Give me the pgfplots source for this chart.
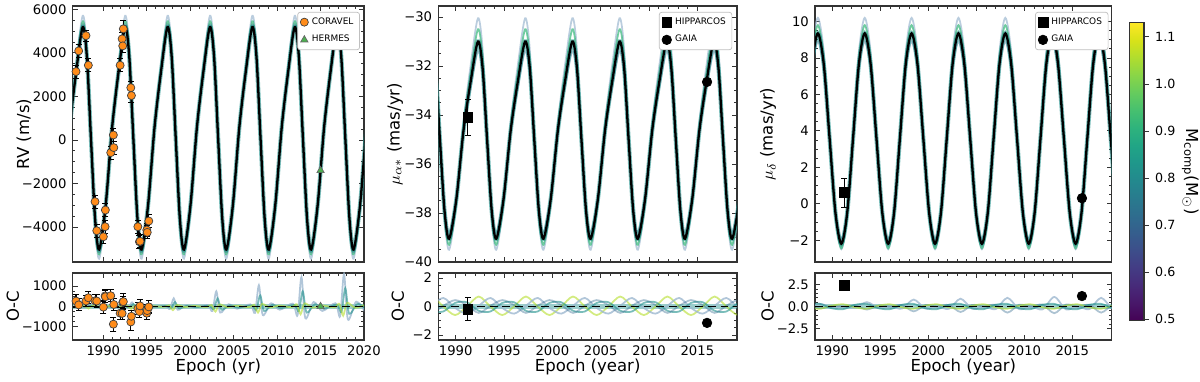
\documentclass[border=0pt]{standalone}
\usepackage{pgfplots}
\pgfplotsset{compat=1.18}
\usepackage{pgfplotstable}
\usepgfplotslibrary{colormaps}
\usepackage{fontspec}
\setmainfont{DejaVu Sans}

\definecolor{vyel}{HTML}{B5DE2B}
\definecolor{vgrn}{HTML}{35B779}
\definecolor{vteal}{HTML}{21918C}
\definecolor{vblue}{HTML}{31688E}
\definecolor{lblue}{HTML}{9DB8D0}
\definecolor{corav}{HTML}{FF8C1A}
\definecolor{herm}{HTML}{4CAF50}

\pgfplotsset{
  base/.style={scale only axis, anchor=south west,
    axis line style={black!80, line width=0.6pt},
    tick style={black!80, line width=0.45pt},
    major tick length=0.1cm, minor tick length=0.055cm,
    tick align=inside, scaled ticks=false,
    tick label style={font=\fontsize{7.5}{8.2}\selectfont},
    label style={font=\fontsize{9.4}{10.5}\selectfont},
    legend cell align=left},
  leg/.style={legend style={at={(axis description cs:#1)}, anchor=north east,
    font=\fontsize{5.1}{6}\selectfont, draw=black!25, rounded corners=1.5pt,
    inner xsep=1.5pt, inner ysep=1pt, row sep=0.8pt}},
  crv/.style={smooth, forget plot, line width=1pt},
  fitline/.style={smooth, forget plot, black, line width=1.3pt},
  halo/.style={smooth, forget plot, vteal, line width=2.4pt, opacity=0.6},
  ebar/.style={error bars/.cd, y dir=both, y explicit,
    error bar style={black, line width=0.6pt},
    error mark options={rotate=90, black, mark size=1.7pt, line width=0.6pt}},
}

% RV model draws: fit and three draws (light blue, green, blue)
\pgfplotstableread{
t fit a b c
1985.385 -2988 -3220 -3110 -3060
1986.130 586 682 635 598
1986.875 3138 3470 3310 3210
1987.620 5180 5700 5450 5300
1988.095 3853 4251 4059 3942
1988.570 75 125 100 75
1989.045 -3601 -3889 -3752 -3687
1989.520 -5030 -5450 -5250 -5150
1990.265 -2988 -3220 -3110 -3060
1991.010 586 682 635 598
1991.755 3138 3470 3310 3210
1992.500 5180 5700 5450 5300
1992.975 3853 4251 4059 3942
1993.450 75 125 100 75
1993.925 -3601 -3889 -3752 -3687
1994.400 -5030 -5450 -5250 -5150
1995.145 -2988 -3220 -3110 -3060
1995.890 586 682 635 598
1996.635 3138 3470 3310 3210
1997.380 5180 5700 5450 5300
1997.855 3853 4251 4059 3942
1998.330 75 125 100 75
1998.805 -3601 -3889 -3752 -3687
1999.280 -5030 -5450 -5250 -5150
2000.025 -2988 -3220 -3110 -3060
2000.770 586 682 635 598
2001.515 3138 3470 3310 3210
2002.260 5180 5700 5450 5300
2002.735 3853 4251 4059 3942
2003.210 75 125 100 75
2003.685 -3601 -3889 -3752 -3687
2004.160 -5030 -5450 -5250 -5150
2004.905 -2988 -3220 -3110 -3060
2005.650 586 682 635 598
2006.395 3138 3470 3310 3210
2007.140 5180 5700 5450 5300
2007.615 3853 4251 4059 3942
2008.090 75 125 100 75
2008.565 -3601 -3889 -3752 -3687
2009.040 -5030 -5450 -5250 -5150
2009.785 -2988 -3220 -3110 -3060
2010.530 586 682 635 598
2011.275 3138 3470 3310 3210
2012.020 5180 5700 5450 5300
2012.495 3853 4251 4059 3942
2012.970 75 125 100 75
2013.445 -3601 -3889 -3752 -3687
2013.920 -5030 -5450 -5250 -5150
2014.665 -2988 -3220 -3110 -3060
2015.410 586 682 635 598
2016.155 3138 3470 3310 3210
2016.900 5180 5700 5450 5300
2017.375 3853 4251 4059 3942
2017.850 75 125 100 75
2018.325 -3601 -3889 -3752 -3687
2018.800 -5030 -5450 -5250 -5150
2019.545 -2988 -3220 -3110 -3060
2020.290 586 682 635 598
2021.035 3138 3470 3310 3210
}\rvtab

\pgfplotstableread{
t fit a b c
1985.185 -37.44 -37.61 -37.54 -37.32
1985.930 -34.62 -34.30 -34.46 -34.73
1986.675 -32.61 -31.94 -32.26 -32.88
1987.420 -31.00 -30.05 -30.50 -31.40
1987.895 -32.05 -31.28 -31.64 -32.36
1988.370 -35.03 -34.78 -34.90 -35.10
1988.845 -37.92 -38.18 -38.07 -37.76
1989.320 -39.05 -39.50 -39.30 -38.80
1990.065 -37.44 -37.61 -37.54 -37.32
1990.810 -34.62 -34.30 -34.46 -34.73
1991.555 -32.61 -31.94 -32.26 -32.88
1992.300 -31.00 -30.05 -30.50 -31.40
1992.775 -32.05 -31.28 -31.64 -32.36
1993.250 -35.03 -34.78 -34.90 -35.10
1993.725 -37.92 -38.18 -38.07 -37.76
1994.200 -39.05 -39.50 -39.30 -38.80
1994.945 -37.44 -37.61 -37.54 -37.32
1995.690 -34.62 -34.30 -34.46 -34.73
1996.435 -32.61 -31.94 -32.26 -32.88
1997.180 -31.00 -30.05 -30.50 -31.40
1997.655 -32.05 -31.28 -31.64 -32.36
1998.130 -35.03 -34.78 -34.90 -35.10
1998.605 -37.92 -38.18 -38.07 -37.76
1999.080 -39.05 -39.50 -39.30 -38.80
1999.825 -37.44 -37.61 -37.54 -37.32
2000.570 -34.62 -34.30 -34.46 -34.73
2001.315 -32.61 -31.94 -32.26 -32.88
2002.060 -31.00 -30.05 -30.50 -31.40
2002.535 -32.05 -31.28 -31.64 -32.36
2003.010 -35.03 -34.78 -34.90 -35.10
2003.485 -37.92 -38.18 -38.07 -37.76
2003.960 -39.05 -39.50 -39.30 -38.80
2004.705 -37.44 -37.61 -37.54 -37.32
2005.450 -34.62 -34.30 -34.46 -34.73
2006.195 -32.61 -31.94 -32.26 -32.88
2006.940 -31.00 -30.05 -30.50 -31.40
2007.415 -32.05 -31.28 -31.64 -32.36
2007.890 -35.03 -34.78 -34.90 -35.10
2008.365 -37.92 -38.18 -38.07 -37.76
2008.840 -39.05 -39.50 -39.30 -38.80
2009.585 -37.44 -37.61 -37.54 -37.32
2010.330 -34.62 -34.30 -34.46 -34.73
2011.075 -32.61 -31.94 -32.26 -32.88
2011.820 -31.00 -30.05 -30.50 -31.40
2012.295 -32.05 -31.28 -31.64 -32.36
2012.770 -35.03 -34.78 -34.90 -35.10
2013.245 -37.92 -38.18 -38.07 -37.76
2013.720 -39.05 -39.50 -39.30 -38.80
2014.465 -37.44 -37.61 -37.54 -37.32
2015.210 -34.62 -34.30 -34.46 -34.73
2015.955 -32.61 -31.94 -32.26 -32.88
2016.700 -31.00 -30.05 -30.50 -31.40
2017.175 -32.05 -31.28 -31.64 -32.36
2017.650 -35.03 -34.78 -34.90 -35.10
2018.125 -37.92 -38.18 -38.07 -37.76
2018.600 -39.05 -39.50 -39.30 -38.80
2019.345 -37.44 -37.61 -37.54 -37.32
2020.090 -34.62 -34.30 -34.46 -34.73
}\patab

\pgfplotstableread{
t fit a b c
1987.28 3.575 3.85 3.675 3.475
1987.89 7.66 8.35 8.01 7.32
1988.50 9.35 10.2 9.8 8.9
1989.11 7.66 8.35 8.01 7.32
1989.72 3.575 3.85 3.675 3.475
1990.33 -0.51 -0.65 -0.66 -0.37
1990.94 -2.2 -2.5 -2.45 -1.95
1991.55 -0.51 -0.65 -0.66 -0.37
1992.16 3.575 3.85 3.675 3.475
1992.77 7.66 8.35 8.01 7.32
1993.38 9.35 10.2 9.8 8.9
1993.99 7.66 8.35 8.01 7.32
1994.60 3.575 3.85 3.675 3.475
1995.21 -0.51 -0.65 -0.66 -0.37
1995.82 -2.2 -2.5 -2.45 -1.95
1996.43 -0.51 -0.65 -0.66 -0.37
1997.04 3.575 3.85 3.675 3.475
1997.65 7.66 8.35 8.01 7.32
1998.26 9.35 10.2 9.8 8.9
1998.87 7.66 8.35 8.01 7.32
1999.48 3.575 3.85 3.675 3.475
2000.09 -0.51 -0.65 -0.66 -0.37
2000.70 -2.2 -2.5 -2.45 -1.95
2001.31 -0.51 -0.65 -0.66 -0.37
2001.92 3.575 3.85 3.675 3.475
2002.53 7.66 8.35 8.01 7.32
2003.14 9.35 10.2 9.8 8.9
2003.75 7.66 8.35 8.01 7.32
2004.36 3.575 3.85 3.675 3.475
2004.97 -0.51 -0.65 -0.66 -0.37
2005.58 -2.2 -2.5 -2.45 -1.95
2006.19 -0.51 -0.65 -0.66 -0.37
2006.80 3.575 3.85 3.675 3.475
2007.41 7.66 8.35 8.01 7.32
2008.02 9.35 10.2 9.8 8.9
2008.63 7.66 8.35 8.01 7.32
2009.24 3.575 3.85 3.675 3.475
2009.85 -0.51 -0.65 -0.66 -0.37
2010.46 -2.2 -2.5 -2.45 -1.95
2011.07 -0.51 -0.65 -0.66 -0.37
2011.68 3.575 3.85 3.675 3.475
2012.29 7.66 8.35 8.01 7.32
2012.90 9.35 10.2 9.8 8.9
2013.51 7.66 8.35 8.01 7.32
2014.12 3.575 3.85 3.675 3.475
2014.73 -0.51 -0.65 -0.66 -0.37
2015.34 -2.2 -2.5 -2.45 -1.95
2015.95 -0.51 -0.65 -0.66 -0.37
2016.56 3.575 3.85 3.675 3.475
2017.17 7.66 8.35 8.01 7.32
2017.78 9.35 10.2 9.8 8.9
2018.39 7.66 8.35 8.01 7.32
2019.00 3.575 3.85 3.675 3.475
2019.61 -0.51 -0.65 -0.66 -0.37
2020.22 -2.2 -2.5 -2.45 -1.95
}\pdtab

% O-C of the draws, proper motions
\pgfplotstableread{
t m1 m2 m3 m4 d1 d2 d3 d4
1986.28 0.0 -0.5 0.3 0.1 0 0 0.25 -0.3
1987.50 0.7 0.05 -0.3 -0.45 -0.09 0.06 -0.1 0.2
1988.72 0.0 0.6 -0.35 0.05 0.3 -0.21 -0.25 0.3
1989.94 -0.6 -0.1 0.25 0.45 -0.09 0.06 0.1 -0.2
1991.16 0.0 -0.5 0.3 0.1 0 0 0.25 -0.3
1992.38 0.7 0.05 -0.3 -0.45 -0.15 0.1 -0.1 0.2
1993.60 0.0 0.6 -0.35 0.05 0.5 -0.35 -0.25 0.3
1994.82 -0.6 -0.1 0.25 0.45 -0.15 0.1 0.1 -0.2
1996.04 0.0 -0.5 0.3 0.1 0 0 0.25 -0.3
1997.26 0.7 0.05 -0.3 -0.45 -0.24 0.16 -0.1 0.2
1998.48 0.0 0.6 -0.35 0.05 0.8 -0.56 -0.25 0.3
1999.70 -0.6 -0.1 0.25 0.45 -0.24 0.16 0.1 -0.2
2000.92 0.0 -0.5 0.3 0.1 0 0 0.25 -0.3
2002.14 0.7 0.05 -0.3 -0.45 -0.27 0.18 -0.1 0.2
2003.36 0.0 0.6 -0.35 0.05 0.9 -0.63 -0.25 0.3
2004.58 -0.6 -0.1 0.25 0.45 -0.27 0.18 0.1 -0.2
2005.80 0.0 -0.5 0.3 0.1 0 0 0.25 -0.3
2007.02 0.7 0.05 -0.3 -0.45 -0.3 0.2 -0.1 0.2
2008.24 0.0 0.6 -0.35 0.05 1.0 -0.7 -0.25 0.3
2009.46 -0.6 -0.1 0.25 0.45 -0.3 0.2 0.1 -0.2
2010.68 0.0 -0.5 0.3 0.1 0 0 0.25 -0.3
2011.90 0.7 0.05 -0.3 -0.45 -0.33 0.22 -0.1 0.2
2013.12 0.0 0.6 -0.35 0.05 1.1 -0.77 -0.25 0.3
2014.34 -0.6 -0.1 0.25 0.45 -0.33 0.22 0.1 -0.2
2015.56 0.0 -0.5 0.3 0.1 0 0 0.25 -0.3
2016.78 0.7 0.05 -0.3 -0.45 -0.3 0.2 -0.1 0.2
2018.00 0.0 0.6 -0.35 0.05 1.0 -0.7 -0.25 0.3
2019.22 -0.6 -0.1 0.25 0.45 -0.3 0.2 0.1 -0.2
2020.44 0.0 -0.5 0.3 0.1 0 0 0.25 -0.3
}\pmres

\begin{document}
\begin{tikzpicture}
\useasboundingbox (0,0) rectangle (24cm,7.62cm);

% ---------------- RV ----------------
\begin{axis}[base, at={(1.454cm,2.38cm)}, width=5.826cm, height=5.12cm,
  xmin=1986.47, xmax=2020, ymin=-5600, ymax=6150,
  xtick={1990,1995,...,2020}, xticklabels={}, minor x tick num=4,
  ytick={-4000,-2000,0,2000,4000,6000},
  yticklabels={−4000,−2000,0,2000,4000,6000}, minor y tick num=3,
  ylabel={RV (m/s)},
  ylabel style={at={(axis description cs:-0.167,0.5)}, anchor=center},
  leg={0.986,0.977}]
\addplot[crv, lblue, opacity=0.7] table[x=t,y=a]{\rvtab};
\addplot[crv, vgrn, opacity=0.7] table[x=t,y=b]{\rvtab};
\addplot[crv, vblue, opacity=0.4] table[x=t,y=c]{\rvtab};
\addplot[halo] table[x=t,y=fit]{\rvtab};
\addplot[fitline] table[x=t,y=fit]{\rvtab};
\addplot[only marks, mark=*, mark size=2.3pt,
  mark options={fill=corav, draw=black!75, line width=0.4pt}, ebar]
coordinates {
(1986.85,3140) +- (0,300) (1987.16,4090) +- (0,300)
(1988.00,4790) +- (0,250) (1988.27,3430) +- (0,300)
(1989.04,-2830) +- (0,300) (1989.24,-4165) +- (0,300)
(1990.00,-4440) +- (0,300) (1990.20,-3980) +- (0,300)
(1990.23,-3215) +- (0,300) (1990.85,-580) +- (0,300)
(1991.15,230) +- (0,300) (1991.20,-350) +- (0,300)
(1991.93,3430) +- (0,300) (1992.16,4640) +- (0,300)
(1992.23,4320) +- (0,300) (1992.30,5100) +- (0,400)
(1993.16,2400) +- (0,300) (1993.23,2040) +- (0,300)
(1993.97,-3980) +- (0,300) (1994.15,-4670) +- (0,300)
(1994.22,-4650) +- (0,300) (1995.00,-4130) +- (0,300)
(1995.05,-4240) +- (0,300) (1995.23,-3720) +- (0,300)
};
\addlegendentry{CORAVEL}
\addplot[only marks, mark=triangle*, mark size=2.4pt,
  mark options={fill=herm, draw=black!60, line width=0.4pt}]
coordinates {(2015.0,-1400)};
\addlegendentry{HERMES}
\end{axis}

\begin{axis}[base, at={(1.454cm,0.82cm)}, width=5.826cm, height=1.34cm,
  xmin=1986.47, xmax=2020, ymin=-1650, ymax=1650,
  xtick={1990,1995,...,2020},
  xticklabels={1990,1995,2000,2005,2010,2015,2020}, minor x tick num=4,
  ytick={-1000,0,1000}, yticklabels={−1000,0,1000}, minor y tick num=3,
  xlabel={Epoch (yr)}, ylabel={O-C},
  xlabel style={at={(axis description cs:0.5,-0.4)}, anchor=center},
  ylabel style={at={(axis description cs:-0.205,0.5)}, anchor=center}]
\addplot[forget plot, vteal, line width=3pt, opacity=0.45]
  coordinates {(1985,0) (2021,0)};
\addplot[crv, lblue, opacity=0.8] coordinates {
(1987.4,8) (1987.95,-24) (1988.4,80) (1988.85,-32) (1989.8,12) (1990.8,-12)
(1992.3,20) (1992.85,-60) (1993.3,200) (1993.75,-80) (1994.7,30) (1995.7,-30)
(1997.1,40) (1997.65,-120) (1998.1,400) (1998.55,-160) (1999.5,60) (2000.5,-60)
(2002.0,75) (2002.55,-225) (2003.0,750) (2003.45,-300) (2004.4,110) (2005.4,-110)
(2006.9,105) (2007.45,-315) (2007.9,1050) (2008.35,-420) (2009.3,160) (2010.3,-160)
(2011.8,145) (2012.35,-435) (2012.8,1450) (2013.25,-580) (2014.2,220) (2015.2,-220)
(2016.7,160) (2017.25,-480) (2017.7,1600) (2018.15,-640) (2019.1,240) (2020.1,-240)};
\addplot[crv, vteal, opacity=0.6] coordinates {
(1987.55,5) (1988.1,-15) (1988.55,50) (1989.0,-20) (1989.95,8) (1990.95,-8)
(1992.45,12) (1993.0,-36) (1993.45,120) (1993.9,-48) (1994.85,18) (1995.85,-18)
(1997.25,22) (1997.8,-66) (1998.25,220) (1998.7,-88) (1999.65,33) (2000.65,-33)
(2002.15,40) (2002.7,-120) (2003.15,400) (2003.6,-160) (2004.55,60) (2005.55,-60)
(2007.05,55) (2007.6,-165) (2008.05,550) (2008.5,-220) (2009.45,83) (2010.45,-83)
(2011.95,75) (2012.5,-225) (2012.95,750) (2013.4,-300) (2014.35,113) (2015.35,-113)
(2016.85,90) (2017.4,-270) (2017.85,900) (2018.3,-360) (2019.25,135) (2020.25,-135)};
\addplot[crv, vyel, opacity=0.6] coordinates {
(1987.3,-10) (1987.85,30) (1988.3,-100) (1988.75,40) (1989.7,-15) (1990.7,15)
(1992.2,-12) (1992.75,36) (1993.2,-120) (1993.65,48) (1994.6,-18) (1995.6,18)
(1997.0,-18) (1997.55,54) (1998.0,-180) (1998.45,72) (1999.4,-27) (2000.4,27)
(2001.9,-25) (2002.45,75) (2002.9,-250) (2003.35,100) (2004.3,-38) (2005.3,38)
(2006.8,-30) (2007.35,90) (2007.8,-300) (2008.25,120) (2009.2,-45) (2010.2,45)
(2011.7,-38) (2012.25,114) (2012.7,-380) (2013.15,152) (2014.1,-57) (2015.1,57)
(2016.6,-45) (2017.15,135) (2017.6,-450) (2018.05,180) (2019.0,-68) (2020.0,68)};
\addplot[forget plot, black, line width=1.1pt, dash pattern=on 4.5pt off 2.8pt]
  coordinates {(1986.47,0) (2020,0)};
\addplot[only marks, mark=*, mark size=2.3pt,
  mark options={fill=corav, draw=black!75, line width=0.4pt}, ebar]
coordinates {
(1986.85,270) +- (0,300) (1987.16,80) +- (0,300)
(1988.00,270) +- (0,250) (1988.27,430) +- (0,300)
(1989.04,280) +- (0,300) (1989.24,270) +- (0,300)
(1990.00,-30) +- (0,300) (1990.20,520) +- (0,300)
(1990.23,480) +- (0,300) (1990.85,530) +- (0,300)
(1991.15,-870) +- (0,350) (1991.20,100) +- (0,300)
(1991.93,-330) +- (0,300) (1992.16,-340) +- (0,300)
(1992.23,200) +- (0,300) (1992.30,240) +- (0,400)
(1993.16,-760) +- (0,400) (1993.23,-480) +- (0,300)
(1993.97,-100) +- (0,300) (1994.15,-250) +- (0,300)
(1994.22,30) +- (0,300) (1995.00,-330) +- (0,300)
(1995.05,-200) +- (0,300) (1995.23,-20) +- (0,300)
};
\addplot[only marks, mark=triangle*, mark size=2.4pt,
  mark options={fill=herm, draw=black!60, line width=0.4pt}]
coordinates {(2015.0,0)};
\end{axis}

% ---------------- mu alpha ----------------
\begin{axis}[base, at={(8.766cm,2.38cm)}, width=5.974cm, height=5.12cm,
  xmin=1988.2, xmax=2019.1, ymin=-40, ymax=-29.55,
  xtick={1990,1995,...,2015}, xticklabels={}, minor x tick num=4,
  ytick={-40,-38,-36,-34,-32,-30},
  yticklabels={−40,−38,−36,−34,−32,−30}, minor y tick num=3,
  ylabel={$\mu_{\alpha*}$ (mas/yr)},
  ylabel style={at={(axis description cs:-0.145,0.5)}, anchor=center},
  leg={0.984,0.977}]
\addplot[crv, lblue, opacity=0.7] table[x=t,y=a]{\patab};
\addplot[crv, vgrn, opacity=0.7] table[x=t,y=b]{\patab};
\addplot[crv, vblue, opacity=0.4] table[x=t,y=c]{\patab};
\addplot[halo] table[x=t,y=fit]{\patab};
\addplot[fitline] table[x=t,y=fit]{\patab};
\addplot[only marks, mark=square*, mark size=2.8pt, black, ebar]
  coordinates {(1991.25,-34.1) +- (0,0.75)};
\addlegendentry{HIPPARCOS}
\addplot[only marks, mark=*, mark size=2.7pt, black]
  coordinates {(2016.0,-32.65)};
\addlegendentry{GAIA}
\end{axis}

\begin{axis}[base, at={(8.766cm,0.82cm)}, width=5.974cm, height=1.34cm,
  xmin=1988.2, xmax=2019.1, ymin=-2.35, ymax=2.35,
  xtick={1990,1995,...,2015},
  xticklabels={1990,1995,2000,2005,2010,2015}, minor x tick num=4,
  ytick={-2,0,2}, yticklabels={−2,0,2}, minor y tick num=3,
  xlabel={Epoch (year)}, ylabel={O-C},
  xlabel style={at={(axis description cs:0.5,-0.4)}, anchor=center},
  ylabel style={at={(axis description cs:-0.135,0.5)}, anchor=center}]
\addplot[forget plot, vteal, line width=3pt, opacity=0.45]
  coordinates {(1985,0) (2021,0)};
\addplot[crv, vyel, opacity=0.6] table[x=t,y=m1]{\pmres};
\addplot[crv, lblue, opacity=0.8] table[x=t,y=m2]{\pmres};
\addplot[crv, vteal, opacity=0.6] table[x=t,y=m3]{\pmres};
\addplot[crv, vblue, opacity=0.4] table[x=t,y=m4]{\pmres};
\addplot[forget plot, black, line width=1.1pt, dash pattern=on 4.5pt off 2.8pt]
  coordinates {(1988.2,0) (2019.1,0)};
\addplot[only marks, mark=square*, mark size=2.8pt, black, ebar]
  coordinates {(1991.25,-0.2) +- (0,0.8)};
\addplot[only marks, mark=*, mark size=2.7pt, black]
  coordinates {(2016.0,-1.15)};
\end{axis}

% ---------------- mu delta ----------------
\begin{axis}[base, at={(16.30cm,2.38cm)}, width=5.934cm, height=5.12cm,
  xmin=1988.2, xmax=2019.1, ymin=-3.2, ymax=10.85,
  xtick={1990,1995,...,2015}, xticklabels={}, minor x tick num=4,
  ytick={-2,0,2,4,6,8,10},
  yticklabels={−2,0,2,4,6,8,10}, minor y tick num=3,
  ylabel={$\mu_{\delta}$ (mas/yr)},
  ylabel style={at={(axis description cs:-0.158,0.5)}, anchor=center},
  leg={0.989,0.977}]
\addplot[crv, lblue, opacity=0.7] table[x=t,y=a]{\pdtab};
\addplot[crv, vgrn, opacity=0.7] table[x=t,y=b]{\pdtab};
\addplot[crv, vblue, opacity=0.4] table[x=t,y=c]{\pdtab};
\addplot[halo] table[x=t,y=fit]{\pdtab};
\addplot[fitline] table[x=t,y=fit]{\pdtab};
\addplot[only marks, mark=square*, mark size=2.8pt, black, ebar]
  coordinates {(1991.25,0.6) +- (0,0.8)};
\addlegendentry{HIPPARCOS}
\addplot[only marks, mark=*, mark size=2.7pt, black]
  coordinates {(2016.0,0.3)};
\addlegendentry{GAIA}
\end{axis}

\begin{axis}[base, at={(16.30cm,0.82cm)}, width=5.934cm, height=1.34cm,
  xmin=1988.2, xmax=2019.1, ymin=-3.85, ymax=3.85,
  xtick={1990,1995,...,2015},
  xticklabels={1990,1995,2000,2005,2010,2015}, minor x tick num=4,
  ytick={-2.5,0,2.5}, yticklabels={−2.5,0.0,2.5}, minor y tick num=4,
  xlabel={Epoch (year)}, ylabel={O-C},
  xlabel style={at={(axis description cs:0.5,-0.4)}, anchor=center},
  ylabel style={at={(axis description cs:-0.16,0.5)}, anchor=center}]
\addplot[forget plot, vteal, line width=3pt, opacity=0.45]
  coordinates {(1985,0) (2021,0)};
\addplot[crv, lblue, opacity=0.8] table[x=t,y=d1]{\pmres};
\addplot[crv, vblue, opacity=0.4] table[x=t,y=d2]{\pmres};
\addplot[crv, vyel, opacity=0.6] table[x=t,y=d3]{\pmres};
\addplot[crv, vteal, opacity=0.6] table[x=t,y=d4]{\pmres};
\addplot[forget plot, black, line width=1.1pt, dash pattern=on 4.5pt off 2.8pt]
  coordinates {(1988.2,0) (2019.1,0)};
\addplot[only marks, mark=square*, mark size=2.8pt, black, ebar]
  coordinates {(1991.25,2.4) +- (0,0.35)};
\addplot[only marks, mark=*, mark size=2.7pt, black]
  coordinates {(2016.0,1.2)};
\end{axis}

% ---------------- colour bar ----------------
\begin{axis}[at={(22.586cm,1.206cm)}, anchor=south west, scale only axis,
  width=0.294cm, height=5.96cm, hide axis, view={0}{90},
  xmin=0, xmax=1, ymin=0.497, ymax=1.13,
  colormap/viridis, point meta min=0.497, point meta max=1.13]
\addplot3[surf, shader=interp, point meta=y] coordinates {
(0,0.497,0) (1,0.497,0)

(0,0.6,0) (1,0.6,0)

(0,0.7,0) (1,0.7,0)

(0,0.8,0) (1,0.8,0)

(0,0.9,0) (1,0.9,0)

(0,1.0,0) (1,1.0,0)

(0,1.1,0) (1,1.1,0)

(0,1.13,0) (1,1.13,0)
};
\end{axis}
\begin{axis}[at={(22.586cm,1.206cm)}, anchor=south west, scale only axis,
  width=0.294cm, height=5.96cm,
  xmin=0, xmax=1, ymin=0.497, ymax=1.13,
  xtick=\empty, ytick={0.5,0.6,0.7,0.8,0.9,1.0,1.1},
  yticklabels={0.5,0.6,0.7,0.8,0.9,1.0,1.1},
  ytick pos=right, yticklabel pos=right, tick align=outside,
  major tick length=0.1cm,
  axis line style={black!80, line width=0.6pt},
  tick style={black!80, line width=0.45pt},
  tick label style={font=\fontsize{7.2}{8}\selectfont},
  label style={font=\fontsize{9.4}{10.5}\selectfont},
  ylabel={M\textsubscript{comp}(M\textsubscript{$\odot$})},
  ylabel style={at={(axis description cs:4.15,0.5)}, anchor=center, rotate=180}]
\addplot[draw=none, forget plot] coordinates {(0.5,0.8)};
\end{axis}
\end{tikzpicture}
\end{document}
